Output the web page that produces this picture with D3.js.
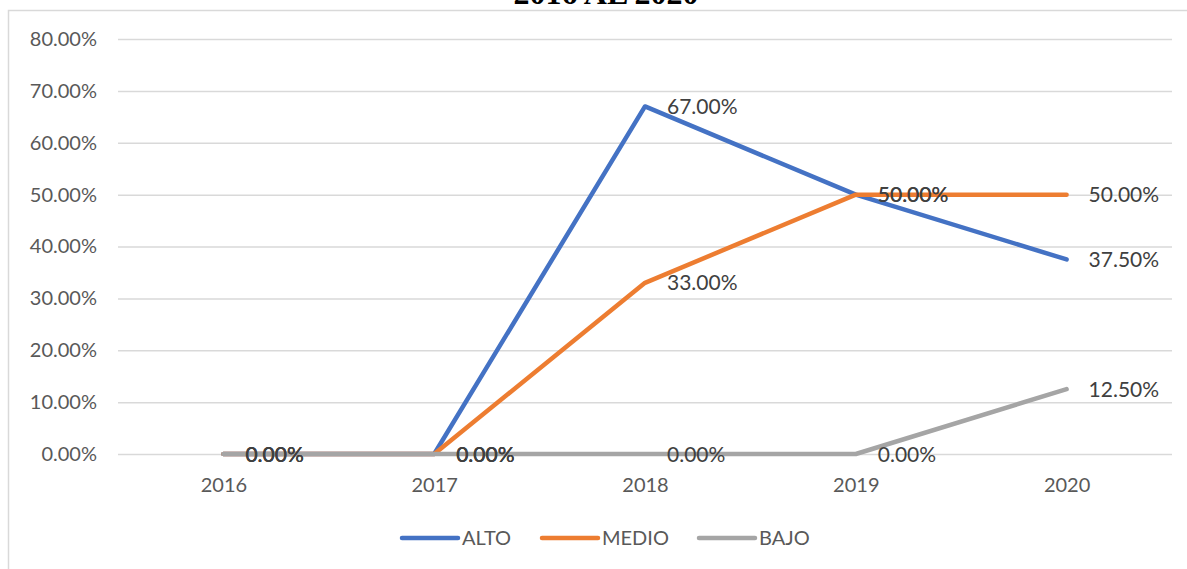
<!DOCTYPE html>
<html><head><meta charset="utf-8">
<script src="https://cdn.jsdelivr.net/npm/d3@7"></script>
<style>
html,body{margin:0;padding:0;background:#fff;overflow:hidden}
svg{display:block}
</style></head>
<body>
<svg id="c" width="1187" height="569"></svg>
<script>
const years = ["2016","2017","2018","2019","2020"];
const seriesNames = ["ALTO","MEDIO","BAJO"];
const alto  = [0, 0, 0.67, 0.50, 0.375];
const medio = [0, 0, 0.33, 0.50, 0.50];
const bajo  = [0, 0, 0, 0, 0.125];
const yTicks = [0, 0.1, 0.2, 0.3, 0.4, 0.5, 0.6, 0.7, 0.8];
const colors = ["#4472C4", "#ED7D31", "#A5A5A5"];
const titleText = "2016 AL 2020";

const series = [alto, medio, bajo].map((vals, i) => ({name: seriesNames[i], color: colors[i], values: vals}));

const svg = d3.select("#c");
const font = "Lato, 'Noto Sans', sans-serif";

// chart border
svg.append("rect").attr("x", 8.5).attr("y", 10.5).attr("width", 1200).attr("height", 600)
  .attr("fill", "none").attr("stroke", "#D9D9D9").attr("stroke-width", 1.5);

// title (partially cut off at top, as in the reference)
svg.append("text").attr("x", 606).attr("y", 4).attr("text-anchor", "middle")
  .attr("font-family", "'Liberation Serif', 'Times New Roman', serif").attr("font-weight", "bold")
  .attr("font-size", 32).attr("fill", "#000").text(titleText);

const x = d3.scalePoint().domain(years).range([118, 1172]).padding(0.5);
const y = d3.scaleLinear().domain([0, 0.8]).range([454, 39]);
const fmt = d3.format(".2%");

// y axis with gridlines
const gy = svg.append("g").attr("transform", "translate(118,0)")
  .call(d3.axisLeft(y).tickValues(yTicks).tickFormat(fmt).tickSize(-(1172 - 118)).tickPadding(21));
gy.select(".domain").remove();
gy.selectAll(".tick line").attr("stroke", "#D9D9D9").attr("stroke-width", 1.5);
gy.selectAll(".tick text").attr("font-family", font).attr("font-size", 20).attr("fill", "#595959");

// x axis labels
const gx = svg.append("g").attr("transform", "translate(0,454)")
  .call(d3.axisBottom(x).tickSize(0).tickPadding(24));
gx.select(".domain").remove();
gx.selectAll(".tick text").attr("font-family", font).attr("font-size", 20).attr("fill", "#595959");

// lines
const line = d3.line().x((d, i) => x(years[i])).y(d => y(d));
svg.append("g").selectAll("path").data(series).join("path")
  .attr("d", d => line(d.values))
  .attr("fill", "none").attr("stroke", d => d.color).attr("stroke-width", 4.5)
  .attr("stroke-linecap", "round").attr("stroke-linejoin", "round");

// data labels
const lg = svg.append("g");
series.forEach(s => {
  lg.selectAll(null).data(s.values).join("text")
    .attr("x", (d, i) => x(years[i]) + 22)
    .attr("y", d => y(d))
    .attr("dy", "0.36em")
    .attr("font-family", font).attr("font-size", 21).attr("fill", "#404040")
    .text(d => fmt(d));
});

// legend
const legendX = [402, 542, 699];
const leg = svg.append("g");
series.forEach((s, i) => {
  leg.append("line").attr("x1", legendX[i]).attr("x2", legendX[i] + 56)
    .attr("y1", 538).attr("y2", 538).attr("stroke", s.color).attr("stroke-width", 4.5)
    .attr("stroke-linecap", "round");
  leg.append("text").attr("x", legendX[i] + 60).attr("y", 538).attr("dy", "0.35em")
    .attr("font-family", font).attr("font-size", 20).attr("fill", "#595959").text(s.name);
});
</script>
</body></html>
